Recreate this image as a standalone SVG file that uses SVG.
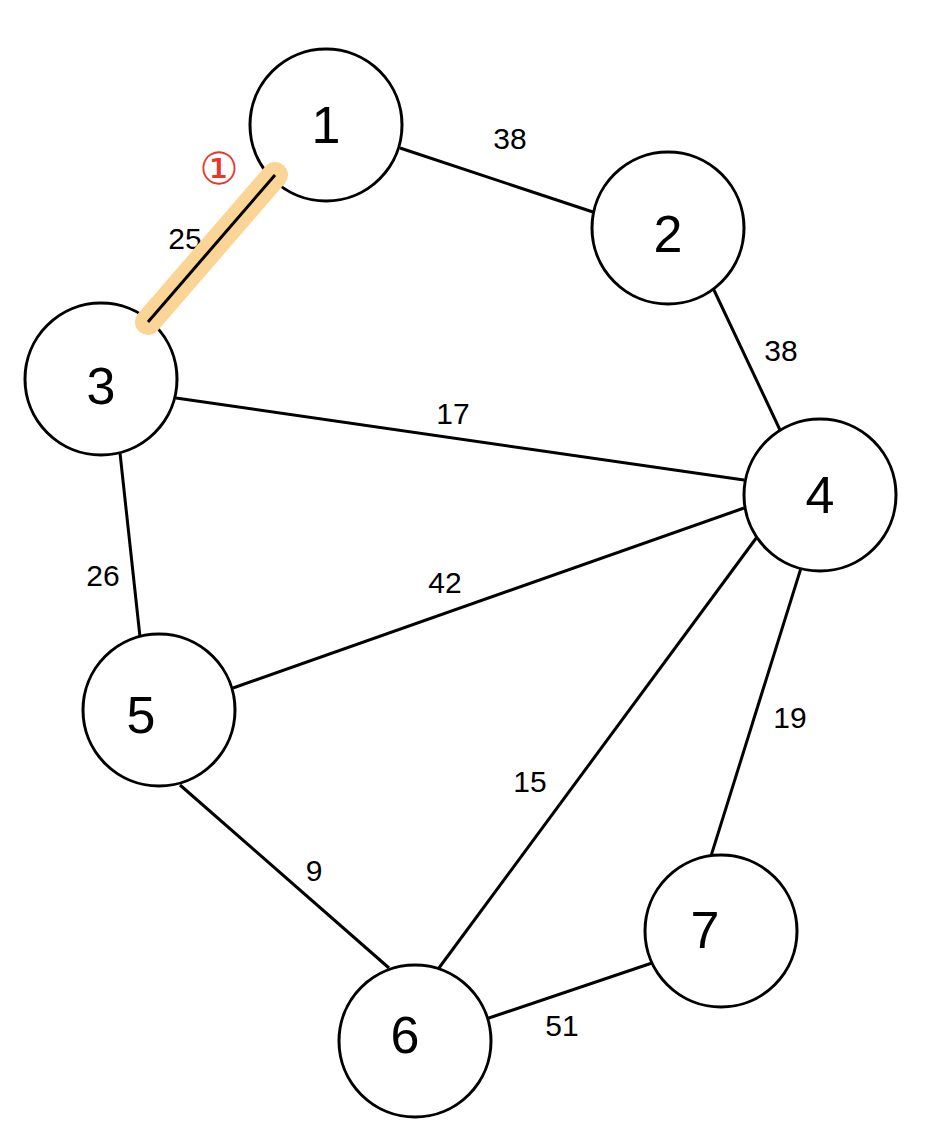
<svg xmlns="http://www.w3.org/2000/svg" width="928" height="1142" viewBox="0 0 928 1142">
<style>
.n{fill:#fff;stroke:#000;stroke-width:3}
.nl{font-family:"Liberation Sans",sans-serif;font-size:52px;text-anchor:middle;dominant-baseline:central;fill:#000}
.e{stroke:#000;stroke-width:3;fill:none}
.el{font-family:"Liberation Sans",sans-serif;font-size:30px;text-anchor:middle;dominant-baseline:central;fill:#000}
.hl{stroke:#FBD596;stroke-width:26px;stroke-linecap:round;fill:none}
</style>
<rect width="928" height="1142" fill="#fff"/>
<g id="connectors">
<line class="e" x1="400" y1="148" x2="596" y2="213"/>
<line class="e" x1="713" y1="288" x2="780" y2="430"/>
<line class="e" x1="176" y1="398" x2="744" y2="480"/>
<line class="e" x1="120" y1="453" x2="140" y2="637"/>
<line class="e" x1="744" y1="508" x2="233" y2="688"/>
<line class="e" x1="757" y1="537" x2="436" y2="972"/>
<line class="e" x1="801" y1="568" x2="711" y2="856"/>
<line class="e" x1="180" y1="785" x2="389" y2="968"/>
<line class="e" x1="486" y1="1019" x2="652" y2="963"/>
<text class="el" x="510" y="138">38</text>
<text class="el" x="185" y="238">25</text>
<text x="219" y="168" font-family="DejaVu Sans,sans-serif" font-size="44" fill="#E8372A" text-anchor="middle" dominant-baseline="central">①</text>
<text class="el" x="781" y="350">38</text>
<text class="el" x="453" y="413">17</text>
<text class="el" x="103" y="575">26</text>
<text class="el" x="445" y="582">42</text>
<text class="el" x="530" y="781">15</text>
<text class="el" x="790" y="717">19</text>
<text class="el" x="314" y="870">9</text>
<text class="el" x="562" y="1025">51</text>
</g>
<g id="node1"><circle class="n" cx="326" cy="125" r="76"/><text class="nl" x="326" y="125">1</text></g>
<g id="node2"><circle class="n" cx="668" cy="228" r="76"/><text class="nl" x="668" y="234">2</text></g>
<g id="node3"><circle class="n" cx="101" cy="379" r="76"/><text class="nl" x="101" y="386">3</text></g>
<g id="node4"><circle class="n" cx="820" cy="495" r="76"/><text class="nl" x="820" y="495">4</text></g>
<g id="node5"><circle class="n" cx="159" cy="710" r="76"/><text class="nl" x="141" y="715">5</text></g>
<g id="node6"><circle class="n" cx="415" cy="1041" r="76"/><text class="nl" x="405" y="1035">6</text></g>
<g id="node7"><circle class="n" cx="721" cy="931" r="76"/><text class="nl" x="705" y="930">7</text></g>
<g id="highlighted-edge">
<path class="hl" d="M275,175 L148,322"/>
<line class="e" x1="275" y1="175" x2="148" y2="322"/>
</g>
</svg>
